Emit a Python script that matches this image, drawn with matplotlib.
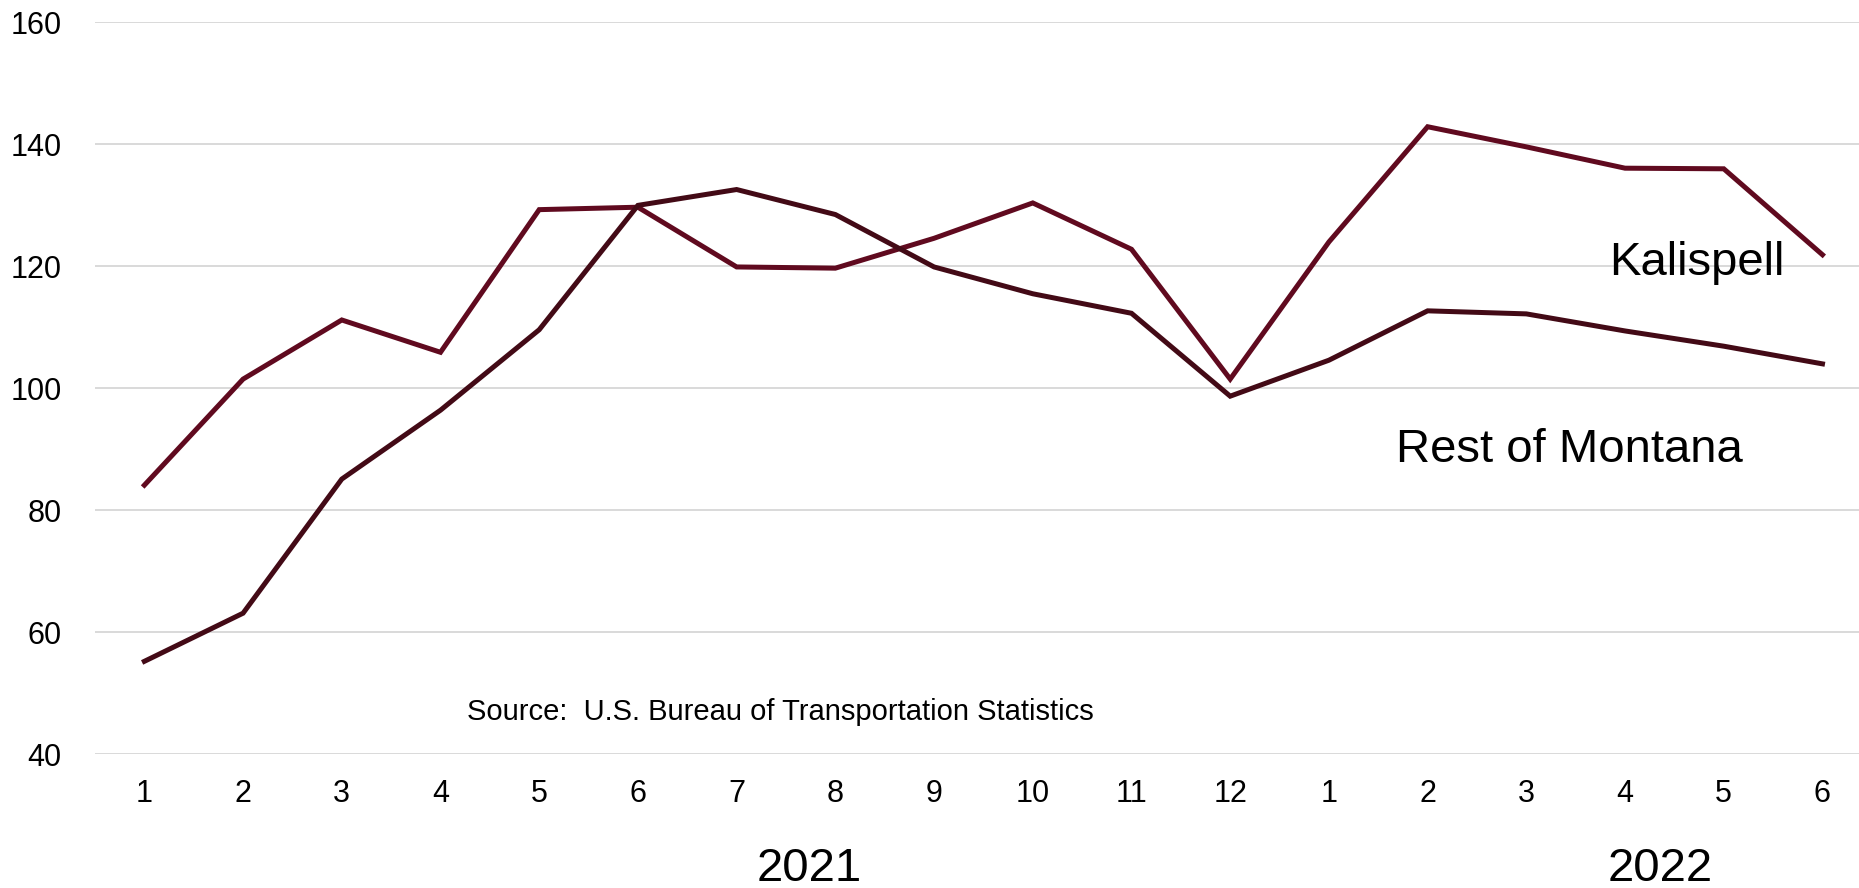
import numpy as np
import matplotlib.pyplot as plt

plt.rcParams["font.family"] = ["Liberation Sans", "DejaVu Sans"]

months = ["1", "2", "3", "4", "5", "6", "7", "8", "9", "10", "11", "12",
          "1", "2", "3", "4", "5", "6"]
kalispell = [84.1, 101.5, 111.2, 105.9, 129.3, 129.7, 119.9, 119.7, 124.6,
             130.4, 122.8, 101.5, 124.0, 142.9, 139.6, 136.1, 136.0, 121.9]
rest_of_montana = [55.2, 63.1, 85.1, 96.4, 109.6, 130.0, 132.6, 128.5, 119.9,
                   115.5, 112.3, 98.7, 104.6, 112.7, 112.2, 109.4, 106.9, 104.0]
years = ["2021", "2022"]
year_pos = [7.74, 16.36]

kal_color = "#600A1F"
rest_color = "#430A16"

fig = plt.figure(figsize=(18.59, 8.88), dpi=100)
ax = fig.add_axes([95 / 1859, 134 / 888, 1 - 95 / 1859, (754 - 22.5) / 888])

x = np.arange(1, len(months) + 1)
ax.plot(x, kalispell, color=kal_color, lw=3.6, solid_joinstyle="miter", zorder=3)
ax.plot(x, rest_of_montana, color=rest_color, lw=3.6, solid_joinstyle="miter", zorder=4)

ax.set_xlim(0.5, 18.37)
ax.set_ylim(40, 160)
ax.set_yticks(np.arange(40, 161, 20))
ax.set_xticks(x)
ax.set_xticklabels(months)
ax.tick_params(axis="y", length=0, pad=24, labelsize=22)
ax.tick_params(axis="x", length=0, pad=18, labelsize=22)
ax.grid(axis="y", color="#D9D9D9", lw=1.4)
ax.set_axisbelow(True)
for s in ax.spines.values():
    s.set_visible(False)

ax.text(15.84, 118.6, "Kalispell", fontsize=34, ha="left", va="baseline")
ax.text(13.68, 87.9, "Rest of Montana", fontsize=34, ha="left", va="baseline")
ax.text(4.27, 45.6, "Source:  U.S. Bureau of Transportation Statistics",
        fontsize=21, ha="left", va="baseline")

trans = ax.get_xaxis_transform()
for yr, pos in zip(years, year_pos):
    ax.text(pos, -0.1736, yr, fontsize=34, ha="center", va="baseline",
            transform=trans, clip_on=False)

fig.savefig("out.png", dpi=100)
